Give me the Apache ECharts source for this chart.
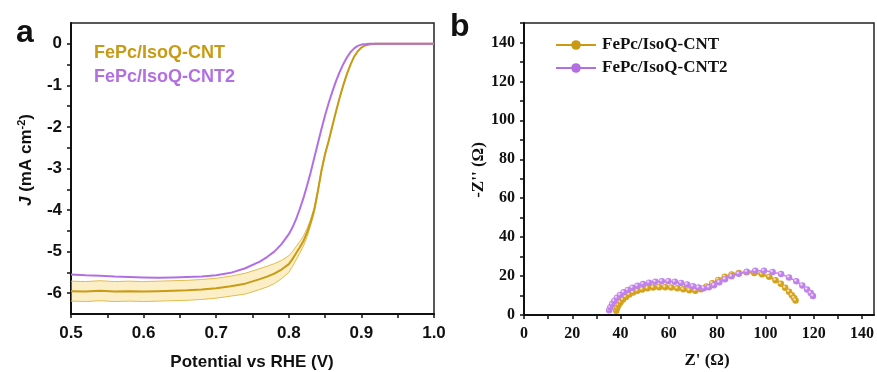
<!DOCTYPE html>
<html><head><meta charset="utf-8">
<script src="https://cdn.jsdelivr.net/npm/echarts@6/dist/echarts.min.js"></script>
<style>html,body{margin:0;padding:0;background:#fff}#c{width:877px;height:372px}</style>
</head><body><div id="c"></div>
<script>
// ---- Panel a: LSV ----
var lsvV = [0.50,0.52,0.54,0.56,0.58,0.60,0.62,0.64,0.66,0.68,0.70,0.72,0.74,0.76,0.77,0.78,0.79,0.80,0.805,0.81,0.815,0.82,0.825,0.83,0.835,0.84,0.845,0.85,0.855,0.86,0.865,0.87,0.875,0.88,0.885,0.89,0.895,0.90,0.905,0.91,0.92,0.94,0.96,0.98,1.00];
var lsvCNT = [-5.95,-5.96,-5.94,-5.96,-5.95,-5.96,-5.95,-5.94,-5.93,-5.91,-5.88,-5.83,-5.77,-5.66,-5.60,-5.53,-5.43,-5.30,-5.18,-5.04,-4.90,-4.75,-4.55,-4.30,-4.00,-3.55,-3.05,-2.65,-2.33,-1.98,-1.63,-1.30,-1.00,-0.73,-0.50,-0.31,-0.18,-0.09,-0.04,-0.02,0,0,0,0,0];
var lsvCNTUpper = [-5.71,-5.72,-5.70,-5.72,-5.71,-5.72,-5.71,-5.70,-5.69,-5.67,-5.64,-5.59,-5.52,-5.41,-5.35,-5.29,-5.21,-5.10,-5.00,-4.88,-4.76,-4.63,-4.45,-4.22,-3.94,-3.50,-3.01,-2.62,-2.31,-1.96,-1.62,-1.29,-0.99,-0.72,-0.50,-0.31,-0.18,-0.09,-0.04,-0.02,0,0,0,0,0];
var lsvCNTLower = [-6.19,-6.20,-6.18,-6.20,-6.19,-6.20,-6.19,-6.18,-6.17,-6.15,-6.12,-6.07,-6.02,-5.91,-5.85,-5.77,-5.65,-5.50,-5.36,-5.20,-5.04,-4.87,-4.65,-4.38,-4.06,-3.60,-3.09,-2.68,-2.35,-2.00,-1.64,-1.31,-1.01,-0.74,-0.50,-0.31,-0.18,-0.09,-0.04,-0.02,0,0,0,0,0];
var lsvCNT2 = [-5.55,-5.57,-5.58,-5.60,-5.61,-5.62,-5.63,-5.62,-5.61,-5.60,-5.57,-5.51,-5.40,-5.24,-5.13,-5.00,-4.82,-4.58,-4.42,-4.22,-3.98,-3.72,-3.42,-3.10,-2.75,-2.40,-2.05,-1.72,-1.42,-1.15,-0.90,-0.68,-0.49,-0.33,-0.20,-0.11,-0.05,-0.02,-0.01,0,0,0,0,0,0];
var lsvXTicks = [0.5,0.55,0.6,0.65,0.7,0.75,0.8,0.85,0.9,0.95,1.0];
var lsvXLabels = [0.5,0.6,0.7,0.8,0.9,1.0];
var lsvYTicks = [-6,-5.5,-5,-4.5,-4,-3.5,-3,-2.5,-2,-1.5,-1,-0.5,0];
var lsvYLabels = [-6,-5,-4,-3,-2,-1,0];

// ---- Panel b: EIS (Nyquist) ----
var eisCNT = [[38.2,2.2],[38.6,3.6],[39.2,5.1],[40.0,6.6],[41.0,8.0],[42.2,9.3],[43.6,10.5],[45.2,11.5],[47.0,12.4],[49.0,13.1],[51.2,13.7],[53.5,14.1],[56.0,14.3],[58.5,14.3],[61.0,14.1],[63.5,13.7],[66.0,13.2],[68.5,12.7],[71.0,12.5],[73.3,13.2],[75.6,14.6],[78.0,16.3],[80.5,18.0],[83.2,19.6],[86.0,20.8],[89.0,21.6],[92.2,21.9],[95.4,21.6],[98.6,20.9],[101.6,19.6],[104.2,17.9],[106.4,16.0],[108.2,14.0],[109.8,12.0],[111.0,10.2],[111.9,8.7],[112.5,7.5]];
var eisCNT2 = [[35.3,2.5],[35.8,4.0],[36.5,5.6],[37.4,7.2],[38.5,8.8],[39.8,10.3],[41.3,11.7],[43.0,12.9],[44.9,14.0],[47.0,15.0],[49.3,15.9],[51.8,16.6],[54.4,17.1],[57.1,17.4],[59.8,17.4],[62.5,17.1],[65.1,16.5],[67.6,15.7],[70.0,14.8],[72.3,14.1],[74.5,13.8],[76.6,14.2],[78.7,15.3],[80.9,16.8],[83.3,18.4],[86.0,19.9],[89.0,21.2],[92.3,22.2],[95.8,22.7],[99.4,22.7],[103.0,22.1],[106.5,21.0],[109.8,19.3],[112.8,17.3],[115.3,15.2],[117.3,13.1],[118.8,11.3],[119.7,9.8]];
var eisXTicks = [0,10,20,30,40,50,60,70,80,90,100,110,120,130,140];
var eisXLabels = [0,20,40,60,80,100,120,140];
var eisYTicks = [0,10,20,30,40,50,60,70,80,90,100,110,120,130,140,150];
var eisYLabels = [0,20,40,60,80,100,120,140];

var names = ['FePc/IsoQ-CNT','FePc/IsoQ-CNT2'];
var GOLD = '#C99A14', PURPLE = '#B26FE2';
var GOLD_M = '#D6A21C', PURPLE_M = '#C081EE';

function zip(xs, ys){ return xs.map(function(x,i){return [x, ys[i]];}); }
function ball(c){ return {type:'radial',x:0.35,y:0.35,r:0.7,colorStops:[{offset:0,color:'#fff6e8'},{offset:0.4,color:c},{offset:1,color:c}]}; }

var SANS = 'Liberation Sans, Arial, sans-serif';
var SERIF = 'Liberation Serif, Times New Roman, serif';

var chart = echarts.init(document.getElementById('c'), null, {renderer:'canvas'});
var axisLine = {show:true, onZero:false, lineStyle:{color:'#111', width:2}};
var tick = {show:true, inside:false, length:4, lineStyle:{color:'#111', width:1.5}};

chart.setOption({
  animation:false,
  backgroundColor:'#fff',
  grid:[
    {left:71, top:23, width:363, height:291, show:true, borderColor:'#222', borderWidth:1.5, backgroundColor:'transparent'},
    {left:524, top:23, width:350, height:292, show:true, borderColor:'#222', borderWidth:1.5, backgroundColor:'transparent'}
  ],
  xAxis:[
    {type:'value', gridIndex:0, min:0.5, max:1.0, splitLine:{show:false}, axisLine:axisLine,
     axisTick:Object.assign({customValues:lsvXTicks}, tick),
     axisLabel:{customValues:lsvXLabels, margin:11, fontFamily:SANS, fontWeight:'bold', fontSize:17, color:'#111', formatter:function(v){return v.toFixed(1);}}},
    {type:'value', gridIndex:1, min:0, max:145, splitLine:{show:false}, axisLine:axisLine,
     axisTick:Object.assign({customValues:eisXTicks}, tick),
     axisLabel:{customValues:eisXLabels, margin:11, fontFamily:SERIF, fontWeight:'bold', fontSize:16, color:'#111'}}
  ],
  yAxis:[
    {type:'value', gridIndex:0, min:-6.5, max:0.5, splitLine:{show:false}, axisLine:axisLine,
     axisTick:Object.assign({customValues:lsvYTicks}, tick),
     axisLabel:{customValues:lsvYLabels, margin:9, fontFamily:SANS, fontWeight:'bold', fontSize:17, color:'#111'}},
    {type:'value', gridIndex:1, min:0, max:150, splitLine:{show:false}, axisLine:axisLine,
     axisTick:Object.assign({customValues:eisYTicks}, tick),
     axisLabel:{customValues:eisYLabels, margin:9, fontFamily:SERIF, fontWeight:'bold', fontSize:16, color:'#111'}}
  ],
  legend:[
    {data:[{name:names[0], textStyle:{color:GOLD}},{name:names[1], textStyle:{color:PURPLE}}],
     orient:'vertical', left:89, top:44, padding:0, itemWidth:0, itemHeight:0, itemGap:5, icon:'rect',
     itemStyle:{opacity:0}, selectedMode:false,
     textStyle:{fontFamily:SANS, fontWeight:'bold', fontSize:18, lineHeight:19}},
    {data:names, orient:'vertical', left:555, top:36, padding:0, itemWidth:40, itemHeight:12, itemGap:5, selectedMode:false,
     textStyle:{fontFamily:SERIF, fontWeight:'bold', fontSize:17, lineHeight:18, color:'#111', padding:[0,0,0,1]}}
  ],
  graphic:[
    {type:'text', left:16, top:17, style:{text:'a', font:'bold 32px '+SANS, fill:'#111'}},
    {type:'text', left:450, top:11, style:{text:'b', font:'bold 32px '+SANS, fill:'#111'}},
    {type:'text', x:252, y:362, style:{text:'Potential vs RHE (V)', font:'bold 17px '+SANS, fill:'#111', align:'center', verticalAlign:'middle'}},
    {type:'text', x:26, y:160, rotation:Math.PI/2,
     style:{text:'{i|J} (mA cm{s|-2})', align:'center', verticalAlign:'middle', fill:'#111',
            font:'bold 17px '+SANS,
            rich:{i:{fontStyle:'italic', fontWeight:'bold', fontSize:17, fontFamily:SANS},
                  s:{fontSize:11, fontWeight:'bold', fontFamily:SANS, verticalAlign:'top', padding:[0,0,8,0]}}}},
    {type:'text', x:707, y:361, style:{text:"Z' (\u03A9)", font:'bold 17px '+SERIF, fill:'#111', align:'center', verticalAlign:'middle'}},
    {type:'text', x:479, y:170, rotation:Math.PI/2, style:{text:"-Z'' (\u03A9)", font:'bold 17px '+SERIF, fill:'#111', align:'center', verticalAlign:'middle'}}
  ],
  series:[
    {type:'custom', name:'band', xAxisIndex:0, yAxisIndex:0, z:1, silent:true, data:[[0.5,-6]],
     renderItem:function(params, api){
       var pts = [];
       for (var i=0;i<lsvV.length;i++) pts.push(api.coord([lsvV[i], lsvCNTUpper[i]]));
       for (var j=lsvV.length-1;j>=0;j--) pts.push(api.coord([lsvV[j], lsvCNTLower[j]]));
       return {type:'polygon', shape:{points:pts}, style:{fill:'rgba(246,212,110,0.38)', stroke:null}};
     }},
    {type:'line', name:'upper', xAxisIndex:0, yAxisIndex:0, data:zip(lsvV, lsvCNTUpper), showSymbol:false, symbol:'none', z:2,
     lineStyle:{color:'#E2BC4E', width:1}},
    {type:'line', name:'lower', xAxisIndex:0, yAxisIndex:0, data:zip(lsvV, lsvCNTLower), showSymbol:false, symbol:'none', z:2,
     lineStyle:{color:'#E2BC4E', width:1}},
    {type:'line', name:names[0], xAxisIndex:0, yAxisIndex:0, data:zip(lsvV, lsvCNT), showSymbol:false, symbol:'none', z:3,
     color:GOLD, lineStyle:{color:GOLD, width:2}},
    {type:'line', name:names[1], xAxisIndex:0, yAxisIndex:0, data:zip(lsvV, lsvCNT2), showSymbol:false, symbol:'none', z:3,
     color:PURPLE, lineStyle:{color:PURPLE, width:2}},
    {type:'line', name:names[0], xAxisIndex:1, yAxisIndex:1, data:eisCNT, symbol:'circle', symbolSize:6.5, showSymbol:true, z:4,
     color:GOLD_M, lineStyle:{color:GOLD_M, width:2}, itemStyle:{color:ball(GOLD_M), borderWidth:0}},
    {type:'line', name:names[1], xAxisIndex:1, yAxisIndex:1, data:eisCNT2, symbol:'circle', symbolSize:6.5, showSymbol:true, z:4,
     color:PURPLE_M, lineStyle:{color:PURPLE_M, width:1.5}, itemStyle:{color:ball(PURPLE_M), borderWidth:0}}
  ]
});
</script></body></html>
